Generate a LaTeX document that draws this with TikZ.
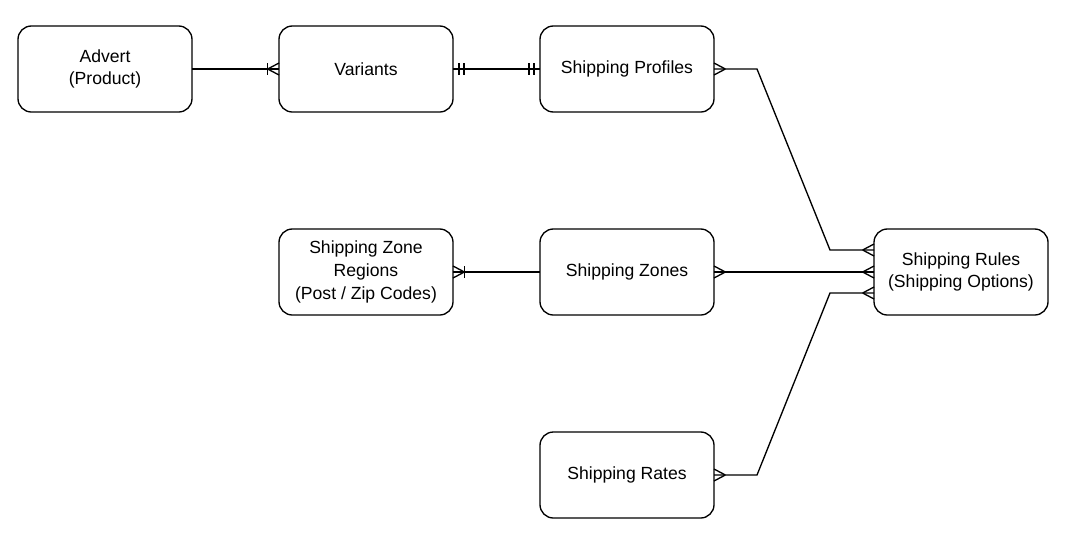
\documentclass[tikz,border=0pt]{standalone}
\usepackage{fontspec}
\setmainfont{Liberation Sans}
\usetikzlibrary{decorations.markings, calc, positioning}

\tikzset{
   entity/.style={draw, line width=1pt, rounded corners=10pt, minimum width=130.5pt,
      minimum height=64.5pt, align=center, inner sep=0pt, outer sep=0pt,
      font=\fontsize{13.2}{17}\selectfont},
   rel/.style={line width=1pt},
   % crow's foot ends
   many start/.style={postaction={decorate, decoration={markings, mark=at position 0 with
      {\draw[rel] (8.5pt,0) -- (0,4.5pt) (8.5pt,0) -- (0,-4.5pt);}}}},
   many end/.style={postaction={decorate, decoration={markings, mark=at position 1 with
      {\draw[rel] (-8.5pt,0) -- (0,4.5pt) (-8.5pt,0) -- (0,-4.5pt);}}}},
   one many start/.style={many start, postaction={decorate, decoration={markings, mark=at position 0 with
      {\draw[rel] (8.5pt,4.5pt) -- (8.5pt,-4.5pt);}}}},
   one many end/.style={many end, postaction={decorate, decoration={markings, mark=at position 1 with
      {\draw[rel] (-8.5pt,4.5pt) -- (-8.5pt,-4.5pt);}}}},
   only one start/.style={postaction={decorate, decoration={markings, mark=at position 0 with
      {\draw[rel] (4.5pt,4.5pt) -- (4.5pt,-4.5pt) (8.25pt,4.5pt) -- (8.25pt,-4.5pt);}}}},
   only one end/.style={postaction={decorate, decoration={markings, mark=at position 1 with
      {\draw[rel] (-4.5pt,4.5pt) -- (-4.5pt,-4.5pt) (-8.25pt,4.5pt) -- (-8.25pt,-4.5pt);}}}}
}

\begin{document}
\begin{tikzpicture}[x=0.75pt, y=-0.75pt]
   \useasboundingbox (0,0) rectangle (1066,536);
   % Entities
   \node[entity] (advert) at (105,69) {Advert\\(Product)};
   \node[entity, right=65.25pt of advert] (variants) {Variants};
   \node[entity, right=65.25pt of variants] (profiles) {Shipping Profiles};
   \node[entity, below=87.75pt of profiles] (zones) {Shipping Zones};
   \node[entity, left=65.25pt of zones] (regions) {Shipping Zone\\Regions\\(Post / Zip Codes)};
   \node[entity, below=87.75pt of zones] (rates) {Shipping Rates};
   \node[entity, right=120pt of zones] (rules) {Shipping Rules\\(Shipping Options)};
   % Relations
   \draw[rel, one many end] (advert.east) -- (variants.west);
   \draw[rel, only one start, only one end] (variants.east) -- (profiles.west);
   \draw[rel, one many start] (regions.east) -- (zones.west);
   \draw[rel, many start, many end] (zones.east) -- (rules.west);
   % Profiles and Rates into Rules
   \draw[rel, many start, many end] (profiles.east) -- ++(43,0)
      -- ($(rules.west)+(-44,-22)$) -- ($(rules.west)+(0,-22)$);
   \draw[rel, many start, many end] (rates.east) -- ++(43,0)
      -- ($(rules.west)+(-44,21)$) -- ($(rules.west)+(0,21)$);
\end{tikzpicture}
\end{document}
